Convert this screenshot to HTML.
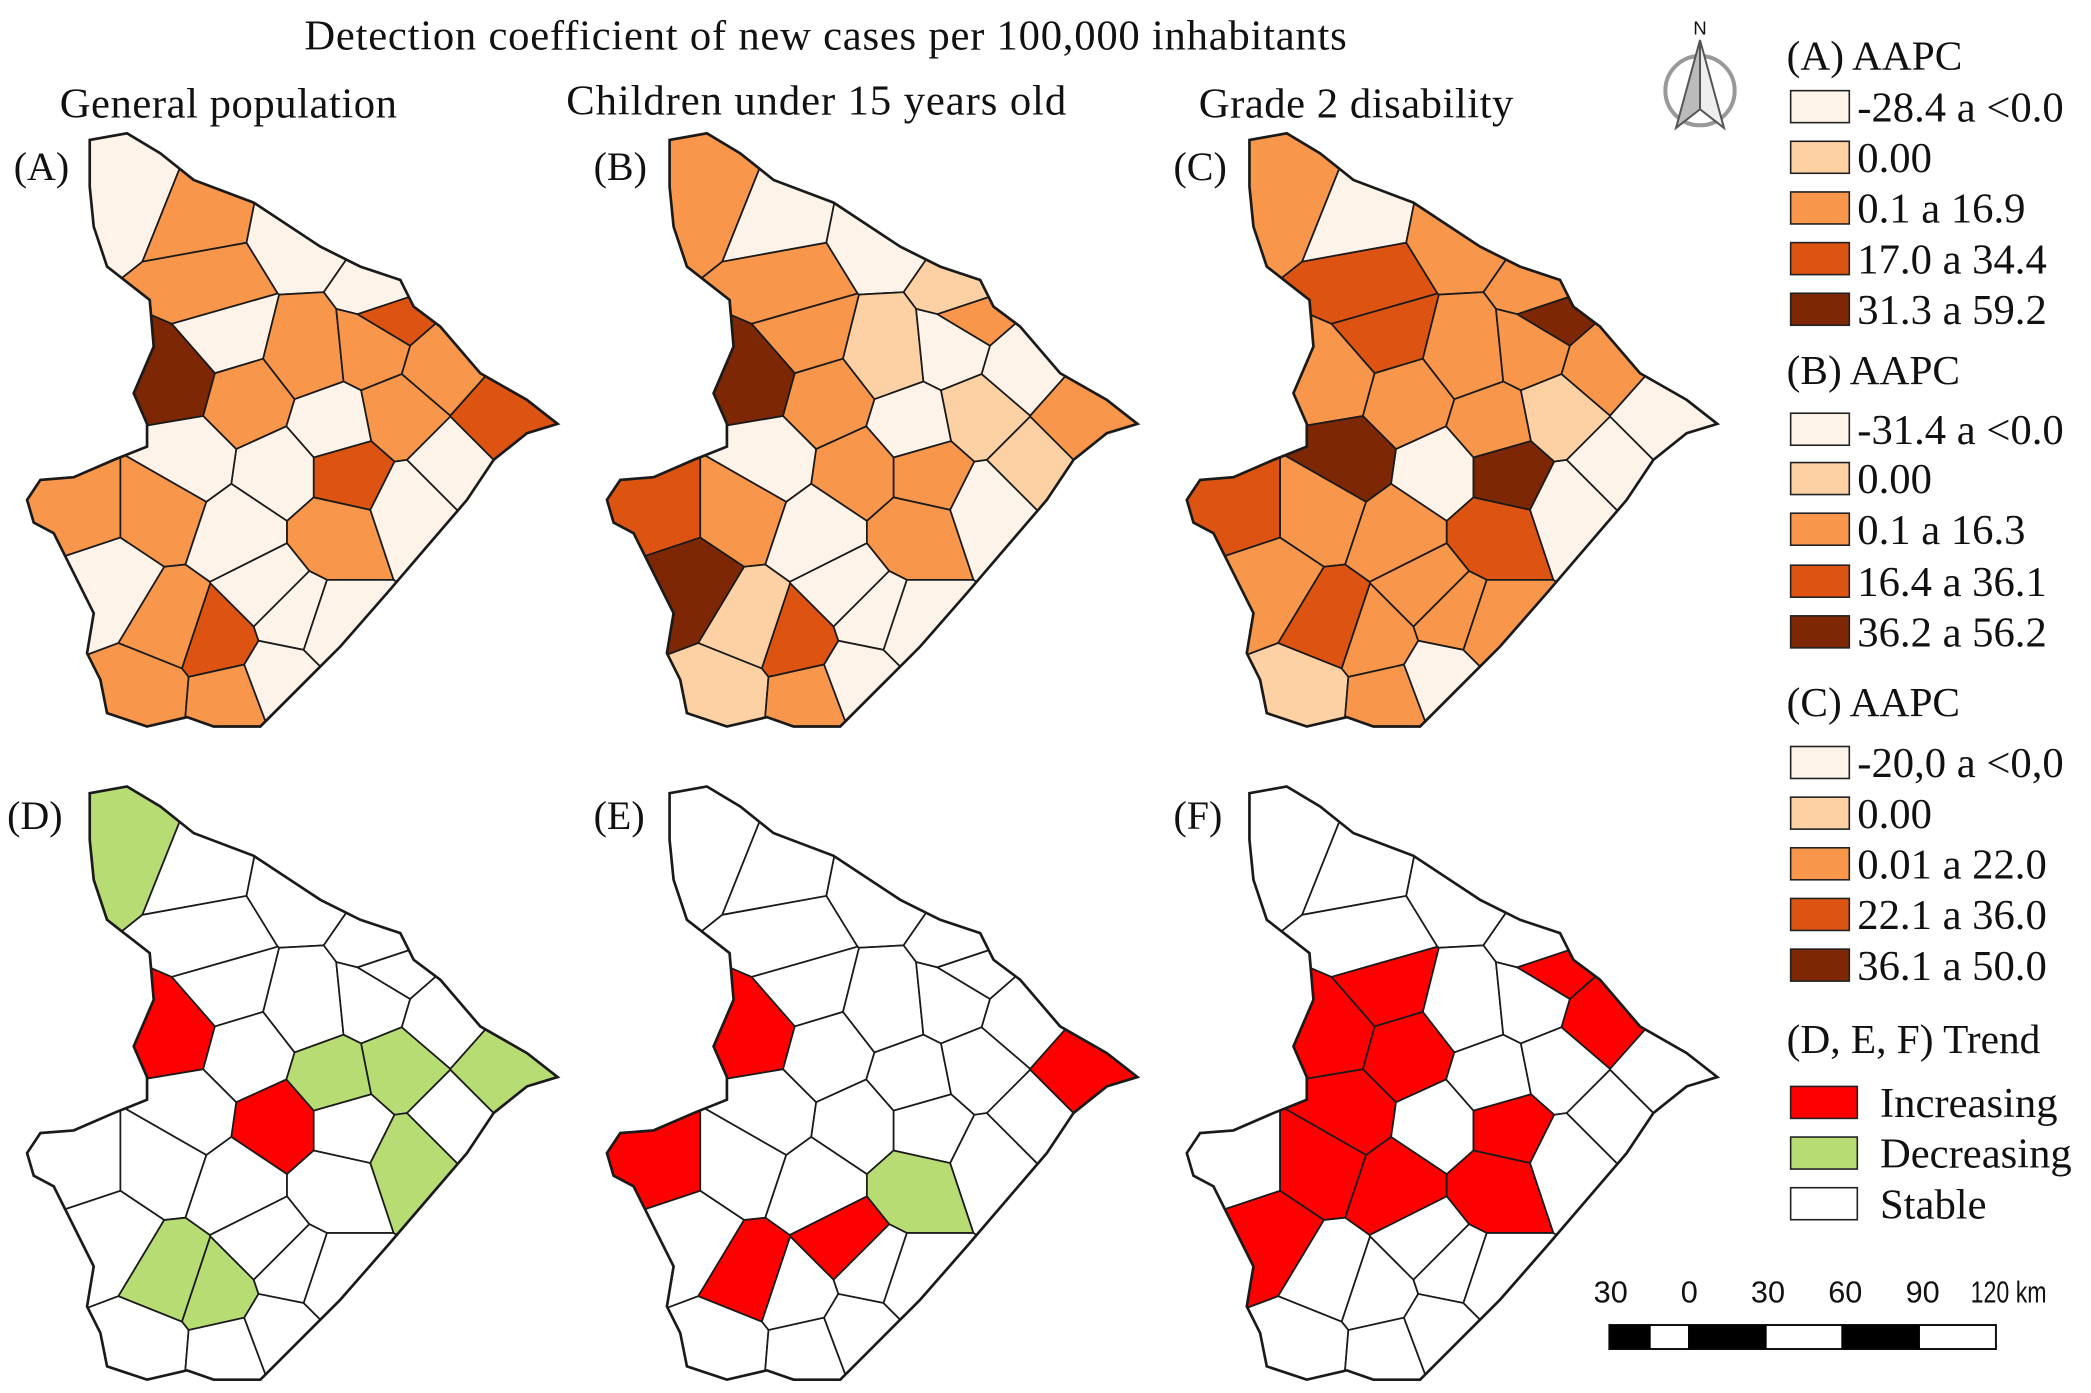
<!DOCTYPE html>
<html><head><meta charset="utf-8">
<style>
html,body{margin:0;padding:0;background:#fff;}
svg{display:block;}
text{font-family:"Liberation Serif",serif;fill:#111;}
</style></head>
<body>
<svg id="fig" width="2091" height="1393" viewBox="0 0 1568 1045" xmlns="http://www.w3.org/2000/svg">
<defs id="defs"></defs>
<text x="619" y="37" font-size="32" text-anchor="middle" textLength="782">Detection coefficient of new cases per 100,000 inhabitants</text>
<text x="171" y="88" font-size="32" text-anchor="middle" textLength="253">General population</text>
<text x="612" y="86" font-size="32" text-anchor="middle" textLength="375">Children under 15 years old</text>
<text x="1017" y="88" font-size="32" text-anchor="middle" textLength="236">Grade 2 disability</text>
<g id="maps"></g>
<g id="legend"></g>
<g transform="translate(1275,68)">
<circle r="26" fill="none" stroke="#999" stroke-width="3"/>
<polygon points="0,-38 -18,28 0,14" fill="#bbb" stroke="#555" stroke-width="1.5"/>
<polygon points="0,-38 18,28 0,14" fill="#eee" stroke="#555" stroke-width="1.5"/>
<text x="0" y="-42" font-size="14" text-anchor="middle" style="font-family:'Liberation Sans',sans-serif">N</text>
</g>
<g>
<text x="1208" y="977" text-anchor="middle" style="font-family:'Liberation Sans',sans-serif" font-size="23">30</text>
<text x="1267" y="977" text-anchor="middle" style="font-family:'Liberation Sans',sans-serif" font-size="23">0</text>
<text x="1326" y="977" text-anchor="middle" style="font-family:'Liberation Sans',sans-serif" font-size="23">30</text>
<text x="1384" y="977" text-anchor="middle" style="font-family:'Liberation Sans',sans-serif" font-size="23">60</text>
<text x="1442" y="977" text-anchor="middle" style="font-family:'Liberation Sans',sans-serif" font-size="23">90</text>
<text x="1478" y="977" textLength="57" lengthAdjust="spacingAndGlyphs" style="font-family:'Liberation Sans',sans-serif" font-size="23">120 km</text>
<rect x="1207" y="994" width="290" height="18" fill="#fff" stroke="#111" stroke-width="1.5"/>
<rect x="1207" y="994" width="31" height="18" fill="#000"/>
<rect x="1266" y="994" width="59" height="18" fill="#000"/>
<rect x="1381" y="994" width="59" height="18" fill="#000"/>
</g>
</svg>
<script>
// Municipality seed points (relative to map A), and class per map
const seedX = [100,150,225,290,160,170,130,185,230,280,295,250,300,375,260,210,140,60,120,180,250,310,80,130,160,220,110,170,210,340,330,200,250];
const seedY = [140,160,175,220,215,250,285,300,265,260,235,320,310,315,355,355,345,380,380,400,400,380,440,470,480,460,520,525,510,350,275,440,470];
const classA = [0,2,0,0,2,0,4,2,2,2,3,0,2,3,3,0,0,2,2,0,2,0,0,2,3,0,2,2,0,0,2,0,0];
const classB = [2,0,0,1,2,2,4,2,1,0,2,0,1,2,2,2,0,3,2,0,2,0,4,1,3,0,1,2,0,1,0,0,0];
const classC = [2,0,2,2,3,3,2,2,2,2,4,2,1,0,4,0,4,3,2,2,3,0,2,3,2,2,1,2,0,0,2,2,2];
const trendD = [2,0,0,0,0,0,1,0,0,0,0,2,2,2,0,1,0,0,0,0,0,2,0,2,2,0,0,0,0,0,0,0,0];
const trendE = [0,0,0,0,0,0,1,0,0,0,0,0,0,1,0,0,0,1,0,0,2,0,0,1,0,0,0,0,0,0,0,1,0];
const trendF = [0,0,0,0,0,1,1,1,0,0,1,0,0,0,1,0,1,0,1,1,1,0,1,0,0,0,0,0,0,0,1,0,0];
const aapcColors = ["#fdf3e8","#fdd1a4","#f8964b","#dd5412","#7d2705"];
const trendColors = ["#ffffff","#ff0000","#b7dc74"];
const outline = [[67,105],[95,100],[120,115],[145,135],[190,152],[240,185],[270,200],[300,210],[310,230],[330,245],[360,280],[395,300],[418,318],[395,325],[370,345],[350,375],[320,410],[290,445],[255,485],[225,515],[195,545],[160,545],[140,538],[110,545],[80,535],[75,510],[65,490],[70,460],[55,430],[40,400],[25,392],[20,375],[30,360],[55,358],[85,345],[110,335],[110,318],[100,295],[115,260],[112,225],[80,200],[70,170],[67,140]];
const panels = [
 {id:"A",dx:0,dy:0,cls:classA,pal:aapcColors},
 {id:"B",dx:435,dy:0,cls:classB,pal:aapcColors},
 {id:"C",dx:870,dy:0,cls:classC,pal:aapcColors},
 {id:"D",dx:0,dy:490,cls:trendD,pal:trendColors},
 {id:"E",dx:435,dy:490,cls:trendE,pal:trendColors},
 {id:"F",dx:870,dy:490,cls:trendF,pal:trendColors}
];
const NS="http://www.w3.org/2000/svg";
function clipHalf(poly,a,b,c){
  const out=[];
  for(let i=0;i<poly.length;i++){
    const p=poly[i],q=poly[(i+1)%poly.length];
    const fp=a*p[0]+b*p[1]-c, fq=a*q[0]+b*q[1]-c;
    if(fp<=0) out.push(p);
    if((fp<0&&fq>0)||(fp>0&&fq<0)){const t=fp/(fp-fq);out.push([p[0]+t*(q[0]-p[0]),p[1]+t*(q[1]-p[1])]);}
  }
  return out;
}
function cell(i){
  let poly=[[0,60],[450,60],[450,580],[0,580]];
  for(let j=0;j<seedX.length;j++){ if(j===i) continue;
    const a=seedX[j]-seedX[i], b=seedY[j]-seedY[i];
    const c=(seedX[j]*seedX[j]+seedY[j]*seedY[j]-seedX[i]*seedX[i]-seedY[i]*seedY[i])/2;
    poly=clipHalf(poly,a,b,c); if(!poly.length) break; }
  return poly;
}
const cells=seedX.map((_,i)=>cell(i));
const defs=document.getElementById('defs'), maps=document.getElementById('maps');
const outlineStr=outline.map(p=>p.join(',')).join(' ');
const cp=document.createElementNS(NS,'clipPath'); cp.setAttribute('id','stateclip');
const cpp=document.createElementNS(NS,'polygon'); cpp.setAttribute('points',outlineStr); cp.appendChild(cpp); defs.appendChild(cp);
panels.forEach(pn=>{
  const g=document.createElementNS(NS,'g');
  
  
  g.setAttribute('transform','translate('+pn.dx+','+pn.dy+')');
  const lab=document.createElementNS(NS,'text');
  
  
  lab.setAttribute('x',pn.id==='D'?5:10); lab.setAttribute('y',pn.dy?132:135); lab.setAttribute('font-size','30');
  lab.textContent='('+pn.id+')'; g.appendChild(lab);
  const inner=document.createElementNS(NS,'g'); inner.setAttribute('clip-path','url(#stateclip)');
  cells.forEach((c,i)=>{
    const p=document.createElementNS(NS,'polygon');
    
    
    p.setAttribute('points',c.map(q=>q[0].toFixed(1)+','+q[1].toFixed(1)).join(' '));
    p.setAttribute('fill',pn.pal[pn.cls[i]]);
    p.setAttribute('stroke','#1a1a1a'); p.setAttribute('stroke-width','1.3');
    inner.appendChild(p);
  });
  g.appendChild(inner);
  const o=document.createElementNS(NS,'polygon');
  
  
  o.setAttribute('points',outlineStr); o.setAttribute('fill','none'); o.setAttribute('stroke','#1a1a1a'); o.setAttribute('stroke-width','2');
  g.appendChild(o);
  maps.appendChild(g);
});
// Legend
const legTitles=["(A) AAPC","(B) AAPC","(C) AAPC","(D, E, F) Trend"];
const legTitleY=[52,288,537,790];
const legA=["-28.4 a <0.0","0.00","0.1 a 16.9","17.0 a 34.4","31.3 a 59.2"];
const legB=["-31.4 a <0.0","0.00","0.1 a 16.3","16.4 a 36.1","36.2 a 56.2"];
const legC=["-20,0 a <0,0","0.00","0.01 a 22.0","22.1 a 36.0","36.1 a 50.0"];
const legT=["Increasing","Decreasing","Stable"];
const legRowY=[[80,118,156,194,232],[322,359,397,436,474],[572,610,648,686,724],[827,865,903]];
const leg=document.getElementById('legend');
function addText(x,y,s,name,fs){const t=document.createElementNS(NS,'text');t.setAttribute('x',x);t.setAttribute('y',y);t.setAttribute('font-size',fs||'32');


t.textContent=s;leg.appendChild(t);}
legTitles.forEach((s,k)=>addText(1340,legTitleY[k],s,'legend-title','31'));
[[legA,aapcColors],[legB,aapcColors],[legC,aapcColors],[legT,[trendColors[1],trendColors[2],trendColors[0]]]].forEach((grp,k)=>{
  grp[0].forEach((s,i)=>{
    const y=legRowY[k][i];
    const r=document.createElementNS(NS,'rect');
    
    
    r.setAttribute('x',1343);r.setAttribute('y',y-12);r.setAttribute('width',k===3?50:44);r.setAttribute('height',24);
    r.setAttribute('fill',grp[1][i]);r.setAttribute('stroke','#222');r.setAttribute('stroke-width','1.2');
    leg.appendChild(r);
    addText(k===3?1410:1393,y+11,s,'legend-entry','32');
  });
});
</script>
</body></html>
